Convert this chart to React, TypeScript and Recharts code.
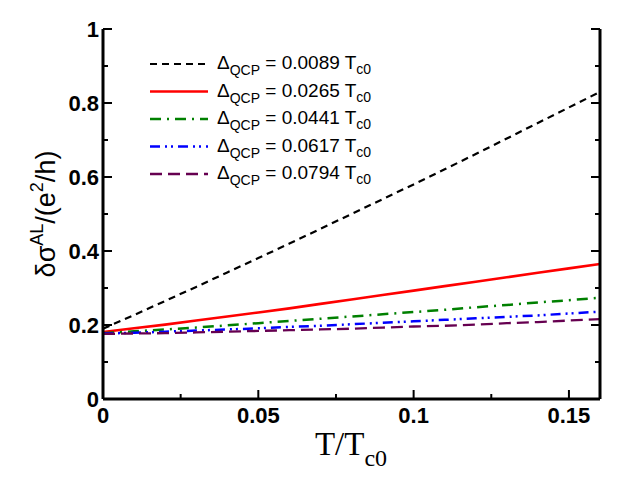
import React from "react";
import { LineChart, Line, XAxis, YAxis } from "recharts";

const tValues = [0, 0.01, 0.02, 0.03, 0.04, 0.05, 0.06, 0.07, 0.08, 0.09, 0.1, 0.11, 0.12, 0.13, 0.14, 0.15, 0.16];
const s0089 = [0.19, 0.227, 0.265, 0.303, 0.342, 0.381, 0.42, 0.46, 0.5, 0.54, 0.58, 0.621, 0.662, 0.704, 0.746, 0.788, 0.83];
const s0265 = [0.181, 0.191, 0.201, 0.212, 0.223, 0.234, 0.245, 0.257, 0.269, 0.281, 0.293, 0.305, 0.317, 0.329, 0.341, 0.353, 0.365];
const s0441 = [0.178, 0.183, 0.188, 0.193, 0.199, 0.205, 0.211, 0.217, 0.223, 0.229, 0.235, 0.241, 0.248, 0.254, 0.261, 0.267, 0.274];
const s0617 = [0.177, 0.179, 0.182, 0.185, 0.188, 0.191, 0.195, 0.198, 0.202, 0.206, 0.21, 0.214, 0.218, 0.222, 0.226, 0.231, 0.236];
const s0794 = [0.176, 0.177, 0.178, 0.18, 0.182, 0.184, 0.186, 0.188, 0.19, 0.193, 0.196, 0.198, 0.201, 0.205, 0.208, 0.212, 0.216];

const xTicks = [0, 0.025, 0.05, 0.075, 0.1, 0.125, 0.15];
const yTicks = [0, 0.1, 0.2, 0.3, 0.4, 0.5, 0.6, 0.7, 0.8, 0.9, 1];
const xMajorStep = 0.05;
const yMajorStep = 0.2;

const seriesDefs = [
  { key: "d0089", label: "0.0089", values: s0089, color: "#000000", dash: "7 5", width: 2.2 },
  { key: "d0265", label: "0.0265", values: s0265, color: "#ff0000", dash: undefined, width: 2.6 },
  { key: "d0441", label: "0.0441", values: s0441, color: "#008000", dash: "11 6 2 6", width: 2.5 },
  { key: "d0617", label: "0.0617", values: s0617, color: "#0000ff", dash: "10 5 2 4 2 5", width: 2.5 },
  { key: "d0794", label: "0.0794", values: s0794, color: "#660050", dash: "12 6", width: 2.3 },
];

const data = tValues.map((t, i) => {
  const row: Record<string, number> = { t };
  seriesDefs.forEach((s) => {
    row[s.key] = s.values[i];
  });
  return row;
});

const isMajor = (v: number, step: number) => Math.abs(v / step - Math.round(v / step)) < 1e-6;
const fmt = (v: number) => String(Number(v.toFixed(3)));

const TICK_FONT = "'Liberation Sans', Arial, sans-serif";
const TICK_SIZE = 22;
const MAJ = 9;
const MIN = 5;

const BottomTick = (props: any) => {
  const { x, y, payload } = props;
  const v = payload.value as number;
  const major = isMajor(v, xMajorStep);
  return (
    <g>
      <line x1={x} x2={x} y1={y} y2={y - (major ? MAJ : MIN)} stroke="#000" strokeWidth={2} />
      {major && (
        <text x={x} y={y + 24} textAnchor="middle" fontFamily={TICK_FONT} fontWeight="bold" fontSize={TICK_SIZE} fill="#000">
          {fmt(v)}
        </text>
      )}
    </g>
  );
};

const TopTick = (props: any) => {
  const { x, y, payload } = props;
  const v = payload.value as number;
  const major = isMajor(v, xMajorStep);
  return <line x1={x} x2={x} y1={y} y2={y + (major ? MAJ : MIN)} stroke="#000" strokeWidth={2} />;
};

const LeftTick = (props: any) => {
  const { x, y, payload } = props;
  const v = payload.value as number;
  const major = isMajor(v, yMajorStep);
  return (
    <g>
      <line x1={x} x2={x + (major ? MAJ : MIN)} y1={y} y2={y} stroke="#000" strokeWidth={2} />
      {major && (
        <text x={x - 4} y={y + 8} textAnchor="end" fontFamily={TICK_FONT} fontWeight="bold" fontSize={TICK_SIZE} fill="#000">
          {fmt(v)}
        </text>
      )}
    </g>
  );
};

const RightTick = (props: any) => {
  const { x, y, payload } = props;
  const v = payload.value as number;
  const major = isMajor(v, yMajorStep);
  return <line x1={x} x2={x - (major ? MAJ : MIN)} y1={y} y2={y} stroke="#000" strokeWidth={2} />;
};

const axisLine = { stroke: "#000", strokeWidth: 3 };

export default function App() {
  return (
    <div style={{ position: "absolute", left: 0, top: 0, width: 623, height: 481, background: "#fff" }}>
      <LineChart width={623} height={481} data={data} margin={{ top: 29, right: 22, bottom: 52, left: 43 }}>
        <XAxis
          dataKey="t"
          type="number"
          domain={[0, 0.16]}
          ticks={xTicks}
          interval={0}
          allowDataOverflow
          tickSize={0}
          tickMargin={0}
          tickLine={false}
          axisLine={axisLine}
          tick={BottomTick}
          height={30}
        />
        <XAxis
          xAxisId="top"
          orientation="top"
          dataKey="t"
          type="number"
          domain={[0, 0.16]}
          ticks={xTicks}
          interval={0}
          allowDataOverflow
          tickSize={0}
          tickMargin={0}
          tickLine={false}
          axisLine={axisLine}
          tick={TopTick}
          height={0}
        />
        <YAxis
          type="number"
          domain={[0, 1]}
          ticks={yTicks}
          interval={0}
          allowDataOverflow
          tickSize={0}
          tickMargin={0}
          tickLine={false}
          axisLine={axisLine}
          tick={LeftTick}
          width={60}
        />
        <YAxis
          yAxisId="right"
          orientation="right"
          type="number"
          domain={[0, 1]}
          ticks={yTicks}
          interval={0}
          allowDataOverflow
          tickSize={0}
          tickMargin={0}
          tickLine={false}
          axisLine={axisLine}
          tick={RightTick}
          width={1}
        />
        {seriesDefs.map((s) => (
          <Line
            key={s.key}
            dataKey={s.key}
            type="linear"
            stroke={s.color}
            strokeWidth={s.width}
            strokeDasharray={s.dash}
            dot={false}
            activeDot={false}
            isAnimationActive={false}
          />
        ))}
      </LineChart>
      <svg width={623} height={481} style={{ position: "absolute", left: 0, top: 0, pointerEvents: "none" }}>
        <text
          transform="translate(55,214) rotate(-90)"
          textAnchor="middle"
          fontFamily="'Liberation Sans', Arial, sans-serif"
          fontSize={27}
          fill="#000"
        >
          δσ
          <tspan dy={-12} fontSize={18}>AL</tspan>
          <tspan dy={12}>/(e</tspan>
          <tspan dy={-12} fontSize={18}>2</tspan>
          <tspan dy={12}>/h)</tspan>
        </text>
        <text x={351} y={455} textAnchor="middle" fontFamily="'Liberation Serif', 'Times New Roman', serif" fontSize={33} fill="#000">
          T/T
          <tspan dy={11} fontSize={24}>c0</tspan>
        </text>
        {seriesDefs.map((s, i) => {
          const ly = 64 + 27.5 * i;
          return (
            <g key={s.key}>
              <line x1={150} x2={208} y1={ly} y2={ly} stroke={s.color} strokeWidth={s.width} strokeDasharray={s.dash} />
              <text x={217} y={ly + 5} fontFamily="'Liberation Sans', Arial, sans-serif" fontSize={19} fill="#000">
                Δ
                <tspan dy={6} fontSize={14}>QCP</tspan>
                <tspan dy={-6}>{` = ${s.label} T`}</tspan>
                <tspan dy={5} fontSize={14}>c0</tspan>
              </text>
            </g>
          );
        })}
      </svg>
    </div>
  );
}
